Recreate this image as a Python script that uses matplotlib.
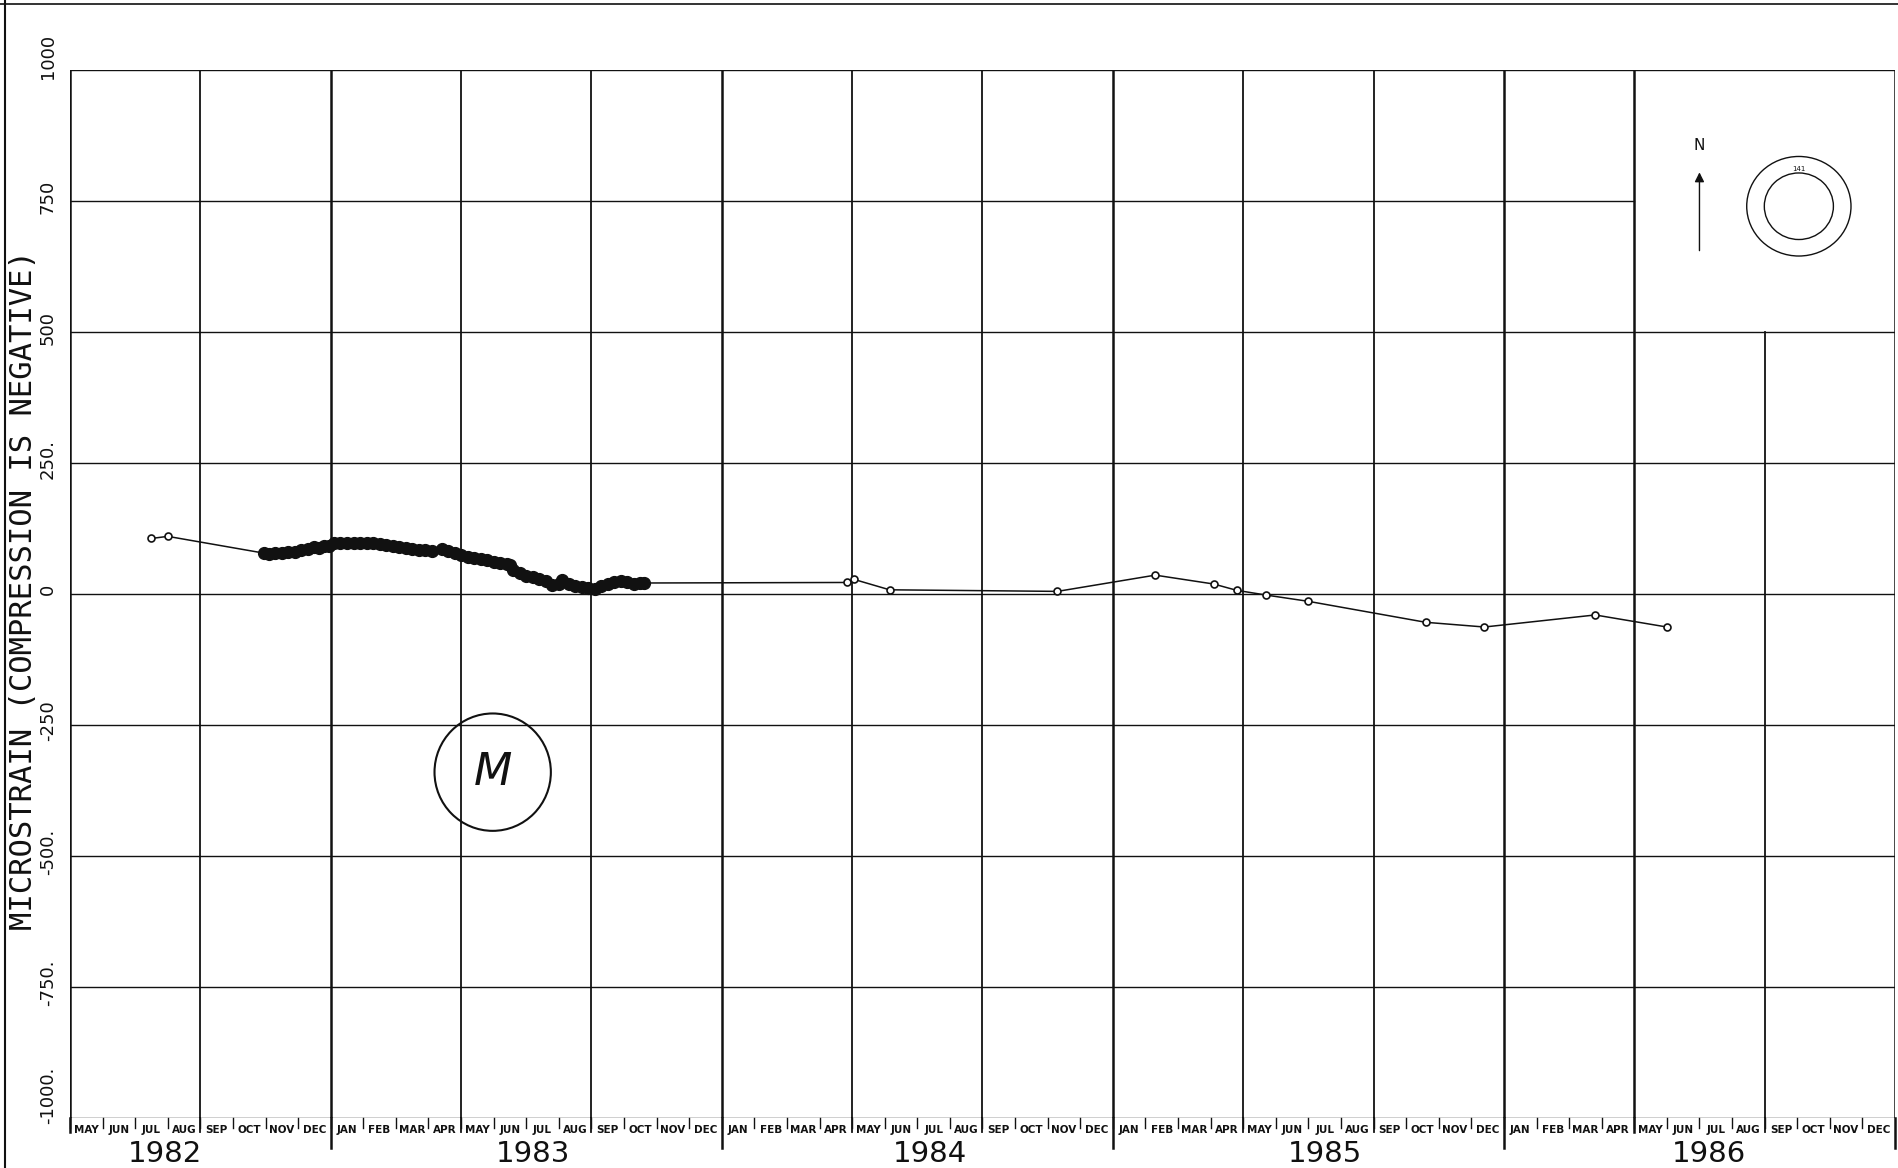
import matplotlib
matplotlib.use('Agg')
import matplotlib.pyplot as plt
from matplotlib.patches import Ellipse
from matplotlib.lines import Line2D

# x axis unit: months since 1 May 1982
month_names = ['MAY', 'JUN', 'JUL', 'AUG', 'SEP', 'OCT', 'NOV', 'DEC',
               'JAN', 'FEB', 'MAR', 'APR']
n_months = 56
years = ['1982', '1983', '1984', '1985', '1986']
year_label_month = [2.9, 14.2, 26.4, 38.5, 50.3]
jan_months = [8, 20, 32, 44]

y_ticks = [-1000, -750, -500, -250, 0, 250, 500, 750, 1000]
y_tick_labels = ['-1000.', '-750.', '-500.', '-250', '0', '250.', '500', '750', '1000']

early_months = [2.5, 3.0]
early_strain = [106, 110]

dense_months = [5.95, 6.1, 6.3, 6.5, 6.7, 6.9, 7.1, 7.3, 7.5, 7.65, 7.8, 7.95,
                8.1, 8.3, 8.5, 8.7, 8.9, 9.1, 9.3, 9.5, 9.7, 9.9, 10.1, 10.3,
                10.5, 10.7, 10.9, 11.1, 11.4, 11.6, 11.8, 12.0, 12.2, 12.4,
                12.6, 12.8, 13.0, 13.2, 13.4, 13.5, 13.6, 13.8, 14.0, 14.2,
                14.4, 14.6, 14.8, 15.0, 15.1, 15.3, 15.5, 15.7, 15.9, 16.1,
                16.3, 16.5, 16.7, 16.9, 17.1, 17.3, 17.5, 17.6]
dense_strain = [78, 77, 78, 78, 80, 81, 84, 86, 89, 88, 91, 92,
                97, 98, 98, 97, 98, 97, 98, 96, 94, 91, 89, 87,
                85, 84, 84, 83, 85, 82, 79, 74, 71, 68,
                67, 64, 62, 60, 57, 55, 46, 41, 35, 32,
                28, 24, 17, 20, 26, 20, 16, 14, 12, 10,
                15, 20, 23, 24, 22, 20, 21, 21]

late_months = [23.85, 24.05, 25.15, 30.3, 33.3, 35.1, 35.8, 36.7, 38.0,
               41.6, 43.4, 46.8, 49.0]
late_strain = [22, 28, 8, 5, 36, 19, 7, -2, -14, -54, -63, -40, -63]

ylabel = 'MICROSTRAIN (COMPRESSION IS NEGATIVE)'

INK = '#111111'

fig = plt.figure(figsize=(18.99, 11.68), dpi=100)
ax = fig.add_axes([70 / 1899, 50 / 1168, 1825 / 1899, 1048 / 1168])
ax.set_xlim(0, n_months)
ax.set_ylim(-1000, 1000)
ax.set_axis_off()

# horizontal grid lines
for v in y_ticks:
    xmax = 48 / n_months if v == 750 else 1.0
    ax.axhline(v, xmin=0, xmax=xmax, color=INK, lw=1.0, zorder=1)

# vertical grid lines every 4 months
for m in range(0, n_months + 1, 4):
    ymax = 0.75 if m == 52 else 1.0
    lw = 1.8 if (m in jan_months or m in (0, n_months, 48)) else 1.3
    ax.axvline(m, ymin=0, ymax=ymax, color=INK, lw=lw, zorder=1)
    low = -1058 if (m in jan_months or m == n_months) else -1027
    ax.plot([m, m], [-1000, low], color=INK, lw=lw, clip_on=False)

# month ticks and labels
for i in range(n_months):
    ax.plot([i, i], [-1000, -1020], color=INK, lw=1.0, clip_on=False)
    ax.text(i + 0.5, -1022, month_names[i % 12], fontsize=7.5,
            fontweight='bold', ha='center', va='center', color=INK,
            clip_on=False)

for yr, pos in zip(years, year_label_month):
    ax.text(pos, -1068, yr, fontsize=21, ha='center', va='center',
            color=INK, clip_on=False)

# y tick labels (rotated)
for v, lab in zip(y_ticks, y_tick_labels):
    yy = v + 8
    if v == 1000:
        yy = 1025
    if v == -1000:
        yy = -956
    ax.text(-0.68, yy, lab, rotation=90, fontsize=13, ha='center',
            va='center', color=INK, clip_on=False)

fig.text(24 / 1899, 1 - 590 / 1168, ylabel, rotation=90, fontsize=22,
         family='DejaVu Sans Mono', ha='center', va='center', color=INK)

# data
ax.plot(early_months + [dense_months[0]], early_strain + [dense_strain[0]],
        color=INK, lw=1.1, zorder=3)
ax.plot(early_months, early_strain, 'o', ms=5, mfc='white', mec=INK,
        mew=1.2, zorder=4)
ax.plot(dense_months, dense_strain, 'o', ms=8.5, color=INK, zorder=4)
ax.plot([dense_months[-1]] + late_months, [dense_strain[-1]] + late_strain,
        color=INK, lw=1.1, zorder=3)
ax.plot(late_months, late_strain, 'o', ms=5, mfc='white', mec=INK,
        mew=1.2, zorder=4)

# inset: north arrow and borehole circles
ax.annotate('', xy=(50.0, 810), xytext=(50.0, 650),
            arrowprops=dict(arrowstyle='-|>', color=INK, lw=1.0,
                            mutation_scale=14))
ax.text(50.0, 855, 'N', fontsize=11, ha='center', va='center', color=INK)
ax.add_patch(Ellipse((53.05, 740), 3.2, 190, fill=False, ec=INK, lw=1.0))
ax.add_patch(Ellipse((53.05, 740), 2.12, 127, fill=False, ec=INK, lw=1.0))
ax.text(53.05, 812, '141', fontsize=5, ha='center', va='center', color=INK)

# stamp
ax.add_patch(Ellipse((12.97, -340), 3.57, 224, fill=False, ec=INK, lw=1.5,
                     zorder=5))
ax.text(12.97, -340, 'M', fontsize=32, style='italic',
        ha='center', va='center', color=INK, zorder=5)

# outer frame of the scanned sheet
fig.add_artist(Line2D([5 / 1899, 5 / 1899], [0, 1], color=INK, lw=1.5))
fig.add_artist(Line2D([0, 1], [1 - 4 / 1168, 1 - 4 / 1168], color=INK, lw=1.2))

fig.savefig('out.png', dpi=100, facecolor='white')
